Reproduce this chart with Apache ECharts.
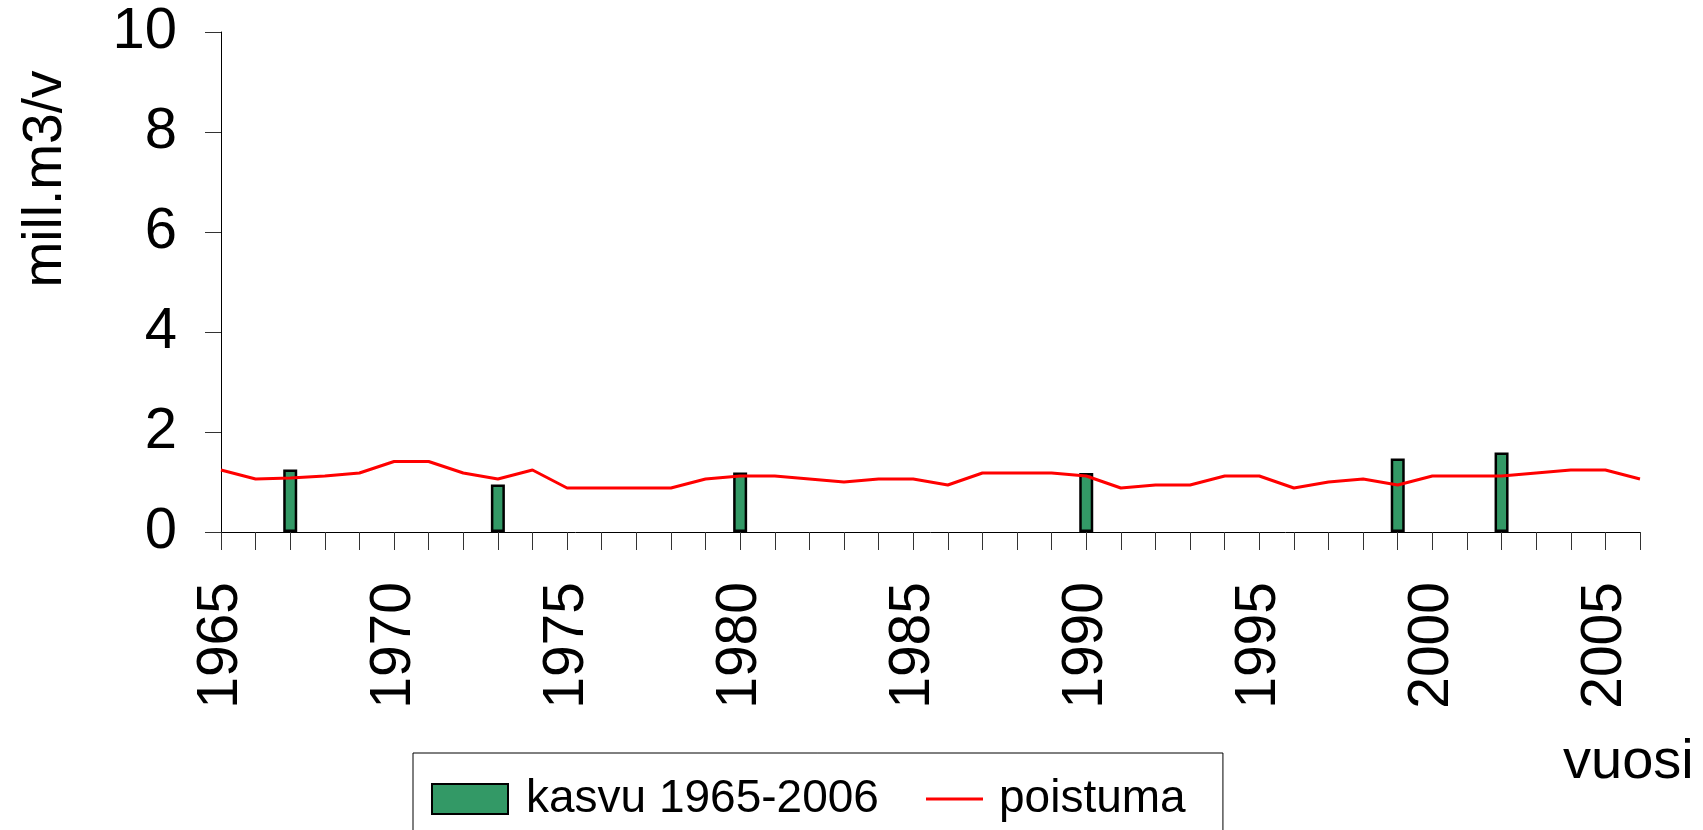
<!DOCTYPE html>
<html>
<head>
<meta charset="utf-8">
<title>kasvu ja poistuma</title>
<script src="https://cdn.jsdelivr.net/npm/echarts@6/dist/echarts.min.js"></script>
<style>
    html, body {
        margin: 0;
        padding: 0;
        background: #fff;
    }
    #chart {
        width: 1703px;
        height: 830px;
    }
</style>
</head>
<body>
<div id="chart"></div>
<script>
    const years = [
        '1965', '1966', '1967', '1968', '1969', '1970', '1971', '1972', '1973', '1974',
        '1975', '1976', '1977', '1978', '1979', '1980', '1981', '1982', '1983', '1984',
        '1985', '1986', '1987', '1988', '1989', '1990', '1991', '1992', '1993', '1994',
        '1995', '1996', '1997', '1998', '1999', '2000', '2001', '2002', '2003', '2004',
        '2005', '2006'
    ]
    // kasvu: vain mittausvuodet
    const kasvu = [
        null, null, 1.25, null, null, null, null, null, 0.95, null,
        null, null, null, null, null, 1.19, null, null, null, null,
        null, null, null, null, null, 1.18, null, null, null, null,
        null, null, null, null, 1.47, null, null, 1.59, null, null,
        null, null
    ]
    const poistuma = [
        1.24, 1.06, 1.08, 1.12, 1.18, 1.41, 1.41, 1.18, 1.06, 1.24,
        0.88, 0.88, 0.88, 0.88, 1.06, 1.12, 1.12, 1.06, 1.00, 1.06,
        1.06, 0.94, 1.18, 1.18, 1.18, 1.12, 0.88, 0.94, 0.94, 1.12,
        1.12, 0.88, 1.00, 1.06, 0.94, 1.12, 1.12, 1.12, 1.18, 1.24,
        1.24, 1.06
    ]
    const yTicks = [0, 2, 4, 6, 8, 10]

    const font = '"Liberation Sans", Arial, sans-serif'
    const myChart = echarts.init(document.getElementById('chart'))

    const option = {
        animation: false,
        backgroundColor: '#fff',
        textStyle: {
            fontFamily: font,
            color: '#000'
        },
        grid: {
            left: 221,
            right: 63,
            top: 32,
            bottom: 298,
            containLabel: false
        },
        title: {
            text: 'vuosi',
            left: 1563,
            top: 735,
            padding: 0,
            textStyle: {
                fontFamily: font,
                fontSize: 56,
                fontWeight: 'normal',
                color: '#000'
            }
        },
        // y-akselin otsikko
        graphic: [
            {
                type: 'text',
                x: 46,
                y: 179,
                rotation: Math.PI / 2,
                style: {
                    text: 'mill.m3/v',
                    fontFamily: font,
                    fontSize: 55,
                    fill: '#000',
                    align: 'center',
                    verticalAlign: 'middle'
                }
            }
        ],
        legend: [
            {
                data: [{ name: 'kasvu 1965-2006', icon: 'rect' }],
                left: 413,
                top: 753,
                orient: 'horizontal',
                padding: [23, 344, 60, 18],
                borderColor: '#000',
                borderWidth: 1,
                itemWidth: 76,
                itemHeight: 30,
                selectedMode: false,
                textStyle: {
                    fontFamily: font,
                    fontSize: 46,
                    color: '#000',
                    padding: [0, 0, 0, 13]
                }
            },
            {
                data: [{ name: 'poistuma', icon: 'rect' }],
                left: 926,
                top: 753,
                padding: [23, 0, 0, 0],
                itemWidth: 57,
                itemHeight: 3,
                selectedMode: false,
                textStyle: {
                    fontFamily: font,
                    fontSize: 46,
                    color: '#000',
                    padding: [0, 0, 0, 11]
                }
            }
        ],
        xAxis: {
            type: 'category',
            data: years,
            boundaryGap: false,
            axisLine: {
                show: true,
                lineStyle: { color: '#000', width: 1 }
            },
            axisTick: {
                show: true,
                interval: 0,
                length: 18,
                lineStyle: { color: '#333', width: 1 }
            },
            axisLabel: {
                interval: 4,
                rotate: 90,
                margin: 50,
                fontFamily: font,
                fontSize: 57,
                color: '#000'
            },
            splitLine: { show: false }
        },
        yAxis: {
            type: 'value',
            min: yTicks[0],
            max: yTicks[yTicks.length - 1],
            interval: yTicks[1] - yTicks[0],
            axisLine: {
                show: true,
                lineStyle: { color: '#000', width: 1 }
            },
            axisTick: {
                show: true,
                length: 16,
                lineStyle: { color: '#333', width: 1 }
            },
            axisLabel: {
                margin: 44,
                fontFamily: font,
                fontSize: 58,
                color: '#000'
            },
            splitLine: { show: false }
        },
        series: [
            {
                name: 'kasvu 1965-2006',
                type: 'bar',
                data: kasvu,
                barWidth: 14,
                itemStyle: {
                    color: '#339966',
                    borderColor: '#000',
                    borderWidth: 2.5
                }
            },
            {
                name: 'poistuma',
                type: 'line',
                data: poistuma,
                symbol: 'none',
                lineStyle: {
                    color: '#ff0000',
                    width: 3
                },
                itemStyle: { color: '#ff0000' }
            }
        ]
    }

    myChart.setOption(option)
</script>
</body>
</html>
